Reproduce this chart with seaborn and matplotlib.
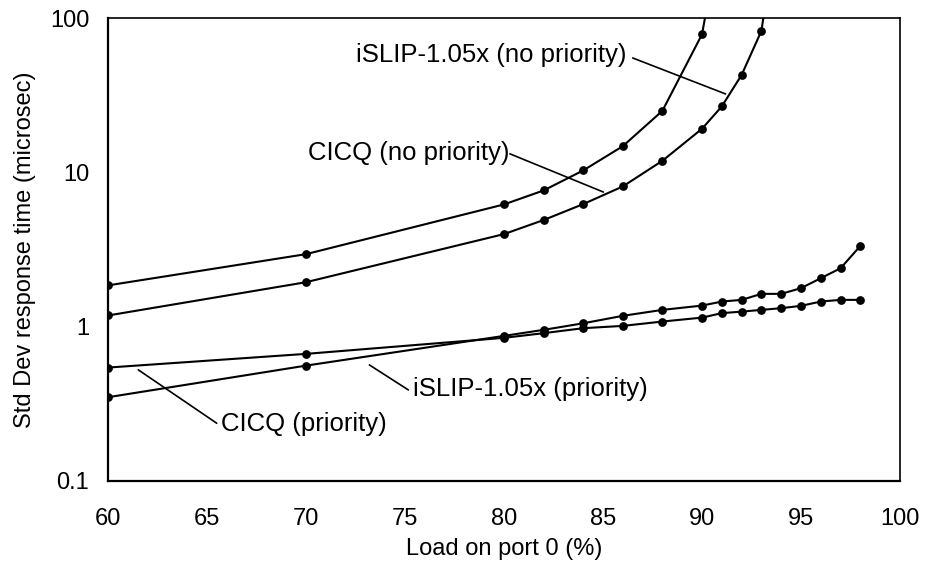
import numpy as np
import pandas as pd
import matplotlib
matplotlib.use("Agg")
import matplotlib.pyplot as plt
import seaborn as sns

# ---- data ----
load_cicq_np = [60, 70, 80, 82, 84, 86, 88, 90, 91]
std_cicq_np = [1.85, 2.95, 6.2, 7.64, 10.3, 14.8, 25.1, 78.7, 400]

load_islip_np = [60, 70, 80, 82, 84, 86, 88, 90, 91, 92, 93, 94]
std_islip_np = [1.18, 1.94, 3.98, 4.91, 6.23, 8.11, 11.9, 19.2, 26.8, 42.9, 82.8, 600]

load_prio = [60, 70, 80, 82, 84, 86, 88, 90, 91, 92, 93, 94, 95, 96, 97, 98]
std_cicq_p = [0.542, 0.665, 0.845, 0.906, 0.976, 1.01, 1.078, 1.143, 1.222, 1.25,
              1.283, 1.316, 1.363, 1.453, 1.49, 1.49]
std_islip_p = [0.348, 0.558, 0.87, 0.952, 1.05, 1.174, 1.283, 1.368, 1.453, 1.49,
               1.63, 1.63, 1.775, 2.06, 2.39, 3.34]

x_ticks = [60, 65, 70, 75, 80, 85, 90, 95, 100]
y_ticks = [0.1, 1, 10, 100]
y_tick_labels = ["0.1", "1", "10", "100"]

x_label = "Load on port 0 (%)"
y_label = "Std Dev response time (microsec)"

# annotation: text, text anchor (x, y), leader start, leader end (data coords)
annotations = [
    ("iSLIP-1.05x (no priority)", (72.55, 58.1), (86.5, 55.3), (91.19, 32.3)),
    ("CICQ (no priority)", (70.1, 13.4), (80.3, 13.2), (85.02, 7.46)),
    ("CICQ (priority)", (65.7, 0.232), (65.49, 0.236), (61.53, 0.524)),
    ("iSLIP-1.05x (priority)", (75.4, 0.394), (75.17, 0.388), (73.2, 0.564)),
]

# ---- build tidy frame ----
frames = []
for name, xs, ys in [
    ("CICQ (no priority)", load_cicq_np, std_cicq_np),
    ("iSLIP-1.05x (no priority)", load_islip_np, std_islip_np),
    ("CICQ (priority)", load_prio, std_cicq_p),
    ("iSLIP-1.05x (priority)", load_prio, std_islip_p),
]:
    frames.append(pd.DataFrame({"load": xs, "std": ys, "series": name}))
df = pd.concat(frames, ignore_index=True)

sns.set_style("white")
plt.rcParams["font.family"] = ["Liberation Sans", "DejaVu Sans"]

fig = plt.figure(figsize=(9.27, 5.67), dpi=100)
ax = fig.add_axes([108 / 927, 1 - 480.7 / 567, (900 - 108) / 927, (480.7 - 18.3) / 567])

for name in df["series"].unique():
    sub = df[df["series"] == name]
    sns.lineplot(data=sub, x="load", y="std", ax=ax, color="black",
                 marker="o", markersize=6.3, markeredgewidth=0, linewidth=1.5,
                 sort=False, estimator=None, legend=False)

ax.set_yscale("log")
ax.set_xlim(60, 100)
ax.set_ylim(0.1, 100)
ax.set_xticks(x_ticks)
ax.set_xticklabels([str(t) for t in x_ticks])
ax.set_yticks(y_ticks)
ax.set_yticklabels(y_tick_labels)
ax.yaxis.set_minor_locator(matplotlib.ticker.NullLocator())

ax.tick_params(axis="both", which="major", direction="out", length=5.5, width=1.0,
               color="black", labelsize=17, labelcolor="black")
ax.tick_params(axis="y", pad=8)
ax.tick_params(axis="x", pad=14)

for side, sp in ax.spines.items():
    sp.set_visible(True)
    sp.set_color("black")
    sp.set_linewidth(1.6 if side in ("left", "bottom") else 1.2)

ax.set_xlabel(x_label, fontsize=17, color="black", labelpad=6)
ax.set_ylabel(y_label, fontsize=17, color="black", labelpad=10)

for text, tpos, lstart, lend in annotations:
    ax.text(tpos[0], tpos[1], text, ha="left", va="center", fontsize=18.5, color="black")
    ax.plot([lstart[0], lend[0]], [lstart[1], lend[1]], color="black", linewidth=1.2)

fig.savefig("out.png", dpi=100)
